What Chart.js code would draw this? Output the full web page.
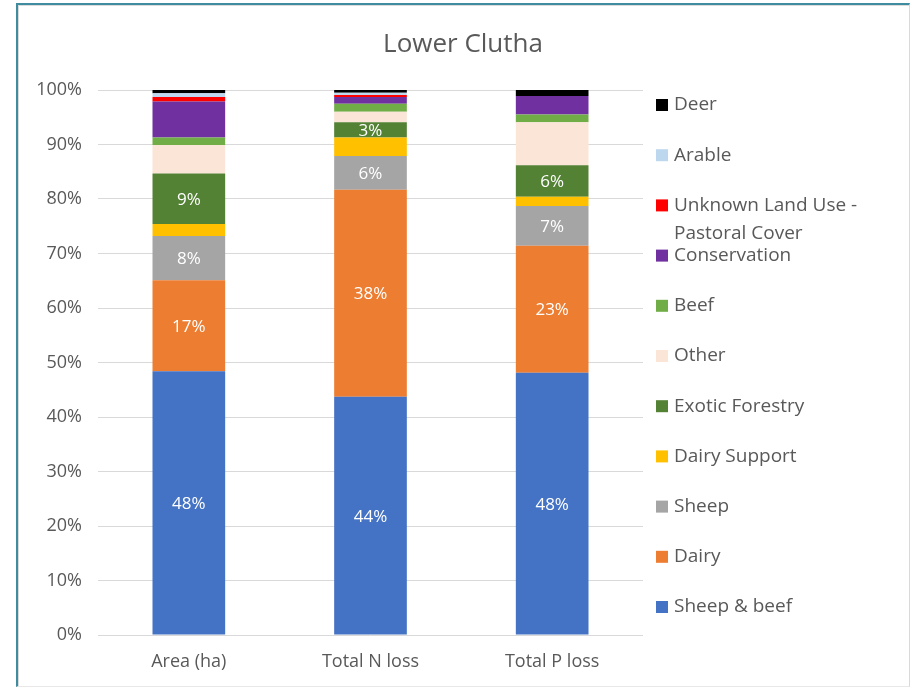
<!DOCTYPE html>
<html><head><meta charset="utf-8">
<script src="https://cdn.jsdelivr.net/npm/chart.js@4"></script>
<style>
html,body{margin:0;padding:0;background:#fff;}
#wrap{position:relative;width:910px;height:687px;overflow:hidden;}
canvas{position:absolute;left:0;top:0;}
.frame{position:absolute;left:16px;top:3px;width:894px;height:684px;border-top:2px solid #3F8CA0;border-left:2px solid #3F8CA0;border-right:1px solid #D9D9D9;border-bottom:1px solid #E8E8E8;box-sizing:border-box;pointer-events:none;box-shadow:inset 1px 1px 0 #DADADA;}
</style></head>
<body><div id="wrap"><canvas id="c" width="910" height="687"></canvas><div class="frame"></div></div>
<script>
const chartTitle = 'Lower Clutha';
const categories = ['Area (ha)', 'Total N loss', 'Total P loss'];
const seriesNames = ['Sheep & beef', 'Dairy', 'Sheep', 'Dairy Support', 'Exotic Forestry', 'Other', 'Beef', 'Conservation', 'Unknown Land Use - Pastoral Cover', 'Arable', 'Deer'];
const seriesColors = ['#4472C4', '#ED7D31', '#A5A5A5', '#FFC000', '#548235', '#FBE5D6', '#70AD47', '#7030A0', '#FF0000', '#BDD7EE', '#000000'];
const sheepBeef    = [48.4, 43.7, 48.1];
const dairy        = [16.7, 38.0, 23.3];
const sheep        = [8.1, 6.2, 7.3];
const dairySupport = [2.2, 3.4, 1.7];
const exoticForest = [9.3, 2.8, 5.8];
const other        = [5.2, 1.9, 7.9];
const beef         = [1.4, 1.5, 1.4];
const conservation = [6.6, 1.2, 3.4];
const unknownLand  = [0.8, 0.4, 0.0];
const arable       = [0.7, 0.4, 0.0];
const deer         = [0.6, 0.5, 1.1];
const labelledSeries = ['Sheep & beef', 'Dairy', 'Sheep', 'Exotic Forestry'];
const yTickValues = [0, 10, 20, 30, 40, 50, 60, 70, 80, 90, 100];

const seriesValues = [sheepBeef, dairy, sheep, dairySupport, exoticForest, other, beef, conservation, unknownLand, arable, deer];
const FONT = "'Open Sans', 'DejaVu Sans', sans-serif";
const TXT = '#595959';

const datasets = seriesNames.map((n, i) => ({
  label: n,
  data: seriesValues[i],
  backgroundColor: seriesColors[i],
  borderWidth: 0,
  barPercentage: 0.4,
  categoryPercentage: 1.0
}));

const dataLabels = {
  id: 'dataLabels',
  afterDatasetsDraw(chart) {
    const ctx = chart.ctx;
    ctx.save();
    ctx.font = '17px ' + FONT;
    ctx.fillStyle = '#FFFFFF';
    ctx.textAlign = 'center';
    ctx.textBaseline = 'middle';
    chart.data.datasets.forEach((ds, di) => {
      if (!labelledSeries.includes(ds.label)) return;
      const meta = chart.getDatasetMeta(di);
      meta.data.forEach((el, j) => {
        const v = ds.data[j];
        if (!v) return;
        ctx.fillText(Math.round(v) + '%', el.x, (el.y + el.base) / 2 + 1);
      });
    });
    ctx.restore();
  }
};

const titleAndLegend = {
  id: 'titleAndLegend',
  afterDraw(chart) {
    const ctx = chart.ctx;
    const ca = chart.chartArea;
    ctx.save();
    ctx.font = '26px ' + FONT;
    ctx.fillStyle = TXT;
    ctx.textAlign = 'center';
    ctx.textBaseline = 'middle';
    ctx.fillText(chartTitle, (16 + chart.width) / 2, 45);
    const n = chart.data.datasets.length;
    const top = ca.top + 15;
    const step = (ca.bottom - 28 - top) / (n - 1);
    const boxX = ca.right + 13;
    const textX = boxX + 18;
    ctx.font = '19px ' + FONT;
    ctx.textAlign = 'left';
    for (let k = 0; k < n; k++) {
      const di = n - 1 - k;
      const ds = chart.data.datasets[di];
      const y = top + k * step;
      ctx.fillStyle = ds.backgroundColor;
      ctx.fillRect(boxX, y - 6, 12, 12);
      ctx.fillStyle = TXT;
      const words = ds.label.split(' ');
      const lines = [];
      let cur = '';
      words.forEach(w => {
        const t = cur ? cur + ' ' + w : w;
        if (ctx.measureText(t).width > 215 && cur) { lines.push(cur); cur = w; } else cur = t;
      });
      lines.push(cur);
      lines.forEach((ln, li) => ctx.fillText(ln, textX, y + li * 28));
    }
    ctx.restore();
  }
};

new Chart(document.getElementById('c'), {
  type: 'bar',
  data: { labels: categories, datasets },
  options: {
    responsive: false,
    animation: false,
    layout: { padding: { left: 0, right: 267, top: 90, bottom: 0 } },
    plugins: {
      legend: { display: false },
      tooltip: { enabled: false },
      title: { display: false }
    },
    scales: {
      x: {
        stacked: true,
        grid: { display: false, drawTicks: false },
        border: { display: false },
        ticks: { color: TXT, font: { family: FONT, size: 18 }, padding: 16 },
        afterFit(s) { s.height = 52; }
      },
      y: {
        stacked: true,
        min: 0, max: 100,
        afterBuildTicks(s) { s.ticks = yTickValues.map(v => ({ value: v })); },
        grid: { color: '#D9D9D9', drawTicks: false },
        border: { display: false },
        ticks: { color: TXT, font: { family: FONT, size: 18 }, padding: 16, callback: v => v + '%' },
        afterFit(s) { s.width = 98; }
      }
    }
  },
  plugins: [dataLabels, titleAndLegend]
});
</script>
</body></html>
